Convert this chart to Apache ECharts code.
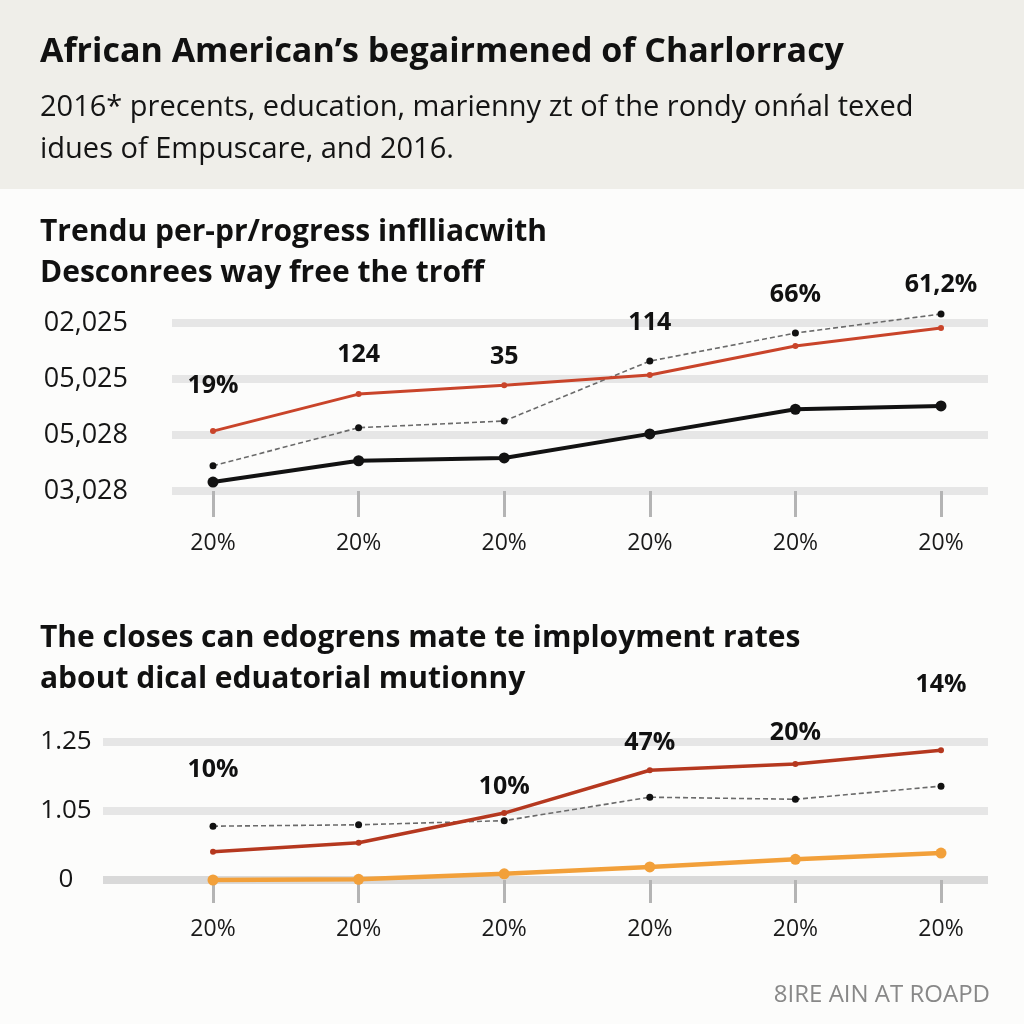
<!DOCTYPE html>
<html>
<head>
<meta charset="utf-8">
<script src="https://cdn.jsdelivr.net/npm/echarts@6/dist/echarts.min.js"></script>
<style>
html,body{margin:0;padding:0;background:#fcfcfb;}
#c{width:1024px;height:1024px;}
</style>
</head>
<body>
<div id="c"></div>
<script>
// ---- data ----
const xLabels = ['20%', '20%', '20%', '20%', '20%', '20%'];

// chart 1
const yTicks1 = ['03,028', '05,028', '05,025', '02,025'];
const redA = [1.07, 1.73, 1.89, 2.07, 2.59, 2.91];
const grayA = [0.45, 1.13, 1.25, 2.32, 2.82, 3.16];
const blackA = [0.16, 0.54, 0.59, 1.02, 1.46, 1.52];
const notesA = ['19%', '124', '35', '114', '66%', '61,2%'];
const notesALevel = [1.88, 2.43, 2.39, 3.00, 3.50, 3.68];

// chart 2
const yTicks2 = ['0', '1.05', '1.25'];
const redB = [0.41, 0.54, 0.97, 1.59, 1.68, 1.88];
const grayB = [0.78, 0.80, 0.86, 1.20, 1.17, 1.36];
const orangeB = [0.00, 0.01, 0.09, 0.19, 0.30, 0.39];
const notesB = ['10%', '', '10%', '47%', '20%', '14%'];
const notesBLevel = [1.59, null, 1.35, 1.99, 2.13, 2.83];

const titleText = 'African American\u2019s begairmened of Charlorracy';
const subLines = ['2016* precents, education, marienny zt of the rondy on\u0144al texed', 'idues of Empuscare, and 2016.'];
const titleA = ['Trendu per-pr/rogress inflliacwith', 'Desconrees way free the troff'];
const titleB = ['The closes can edogrens mate te imployment rates', 'about dical eduatorial mutionny'];
const footer = '8IRE AIN AT ROAPD';

// ---- chart ----
const FF = '"Open Sans", "Liberation Sans", sans-serif';
const chart = echarts.init(document.getElementById('c'), null, {renderer: 'canvas'});

function txt(text, x, y, font, fill, align) {
  return {type: 'text', silent: true, z: 10,
    style: {text: text, x: x, y: y, font: font, fill: fill || '#151515',
      textAlign: align || 'left', textVerticalAlign: 'middle'}};
}

const bandGrid = {show: true, lineStyle: {color: '#e6e6e6', width: 8}};

function noteSeries(xi, yi, levels, texts) {
  return {
    type: 'scatter', xAxisIndex: xi, yAxisIndex: yi, silent: true, clip: false,
    symbolSize: 1, itemStyle: {color: '#fcfcfb', opacity: 0}, z: 20,
    data: levels.map((v, i) => v == null ? null : {value: [i, v], label: {formatter: texts[i]}}),
    label: {show: true, position: 'inside', color: '#111', opacity: 1, fontFamily: FF, fontWeight: 'bold', fontSize: 25}
  };
}

function lineS(xi, yi, data, color, width, symSize, symColor, dash) {
  return {
    type: 'line', xAxisIndex: xi, yAxisIndex: yi, data: data, clip: false, silent: true,
    symbol: 'circle', symbolSize: symSize, showSymbol: true,
    lineStyle: {color: color, width: width, type: dash || 'solid'},
    itemStyle: {color: symColor || color},
    animation: false
  };
}

const option = {
  backgroundColor: '#fcfcfb',
  animation: false,
  grid: [
    {left: 172, right: 36, top: 323, height: 168, outerBoundsMode: 'none'},
    {left: 213, right: 83, top: 323, height: 168, outerBoundsMode: 'none'},
    {left: 103, right: 36, top: 742, height: 138, outerBoundsMode: 'none'},
    {left: 213, right: 83, top: 742, height: 138, outerBoundsMode: 'none'}
  ],
  xAxis: [
    {gridIndex: 0, type: 'category', data: xLabels, show: false},
    {gridIndex: 1, type: 'category', data: xLabels, boundaryGap: false,
      axisLine: {show: false},
      axisTick: {show: true, alignWithLabel: true, length: 26, lineStyle: {color: '#b4b4b4', width: 3}},
      axisLabel: {margin: 41, color: '#1a1a1a', fontFamily: FF, fontSize: 23}},
    {gridIndex: 2, type: 'category', data: xLabels, show: false},
    {gridIndex: 3, type: 'category', data: xLabels, boundaryGap: false,
      axisLine: {show: false},
      axisTick: {show: true, alignWithLabel: true, length: 23, lineStyle: {color: '#b4b4b4', width: 3}},
      axisLabel: {margin: 38, color: '#1a1a1a', fontFamily: FF, fontSize: 23}}
  ],
  yAxis: [
    {gridIndex: 0, type: 'value', min: 0, max: yTicks1.length - 1, interval: 1,
      axisLine: {show: false}, axisTick: {show: false}, splitLine: bandGrid,
      axisLabel: {margin: 44, color: '#151515', fontFamily: FF, fontSize: 27,
        formatter: v => yTicks1[Math.round(v)]}},
    {gridIndex: 1, type: 'value', min: 0, max: yTicks1.length - 1, interval: 1, show: false, splitLine: {show: false}},
    {gridIndex: 2, type: 'value', min: 0, max: yTicks2.length - 1, interval: 1,
      axisLine: {show: false}, axisTick: {show: false},
      splitLine: {show: true, lineStyle: {color: ['#d9d9d9', '#e6e6e6', '#e6e6e6'], width: 8}},
      axisLabel: {margin: 37, align: 'center', color: '#151515', fontFamily: FF, fontSize: 26,
        formatter: v => yTicks2[Math.round(v)]}},
    {gridIndex: 3, type: 'value', min: 0, max: yTicks2.length - 1, interval: 1, show: false, splitLine: {show: false}}
  ],
  series: [
    lineS(1, 1, grayA, '#6a6a6a', 1.6, 7, '#111', [5, 3]),
    lineS(1, 1, redA, '#c9442a', 3, 6),
    lineS(1, 1, blackA, '#121212', 4, 11),
    noteSeries(1, 1, notesALevel, notesA),
    lineS(3, 3, grayB, '#6a6a6a', 1.6, 7, '#111', [5, 3]),
    lineS(3, 3, redB, '#b5381f', 3.5, 6),
    lineS(3, 3, orangeB, '#f2a03a', 4.5, 11),
    noteSeries(3, 3, notesBLevel, notesB)
  ],
  graphic: [
    {type: 'rect', silent: true, z: -10, shape: {x: 0, y: 0, width: 1024, height: 189}, style: {fill: '#efeee9'}},
    txt(titleText, 40, 52, 'bold 34px ' + FF, '#111'),
    txt(subLines[0], 40, 108, '29px ' + FF, '#141414'),
    txt(subLines[1], 40, 150, '29px ' + FF, '#141414'),
    txt(titleA[0], 40, 232, 'bold 30px ' + FF, '#111'),
    txt(titleA[1], 40, 273, 'bold 30px ' + FF, '#111'),
    txt(titleB[0], 40, 638, 'bold 30px ' + FF, '#111'),
    txt(titleB[1], 40, 679, 'bold 30px ' + FF, '#111'),
    txt(footer, 990, 995, '24px ' + FF, '#888', 'right')
  ]
};
chart.setOption(option);
</script>
</body>
</html>
